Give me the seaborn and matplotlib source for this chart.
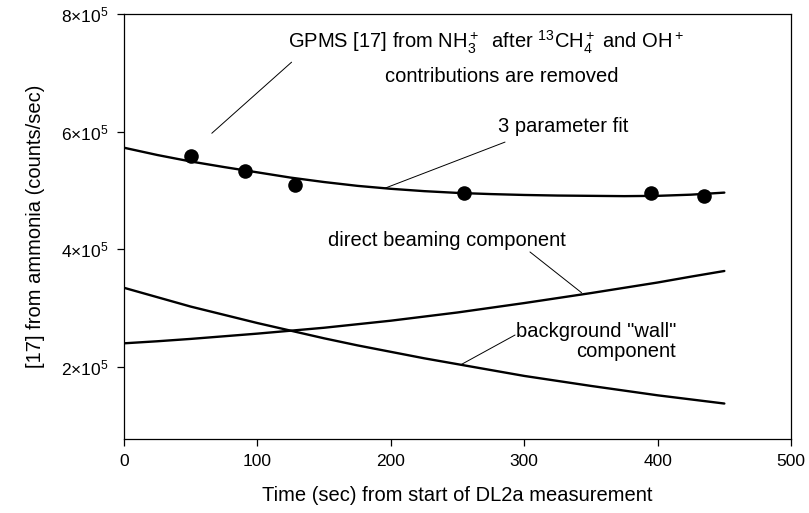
import matplotlib
matplotlib.use("Agg")
import matplotlib.pyplot as plt
import seaborn as sns
import pandas as pd
from matplotlib.ticker import FixedLocator, FuncFormatter

# ---- data ----
t_obs = [50, 91, 128, 255, 395, 435]
y_obs = [5.58e5, 5.33e5, 5.09e5, 4.95e5, 4.95e5, 4.90e5]

t_curve = [0, 25, 50, 75, 100, 125, 150, 175, 200, 225,
           250, 275, 300, 325, 350, 375, 400, 425, 450]
fit_vals = [5.724e5, 5.60e5, 5.49e5, 5.395e5, 5.305e5, 5.215e5, 5.14e5, 5.075e5, 5.025e5, 4.985e5,
            4.955e5, 4.935e5, 4.92e5, 4.91e5, 4.905e5, 4.90e5, 4.905e5, 4.925e5, 4.96e5]
direct_vals = [2.395e5, 2.43e5, 2.47e5, 2.515e5, 2.56e5, 2.61e5, 2.66e5, 2.72e5, 2.78e5, 2.85e5,
               2.92e5, 3.00e5, 3.08e5, 3.165e5, 3.25e5, 3.34e5, 3.43e5, 3.53e5, 3.626e5]
wall_vals = [3.34e5, 3.18e5, 3.02e5, 2.88e5, 2.74e5, 2.61e5, 2.48e5, 2.36e5, 2.25e5, 2.14e5,
             2.04e5, 1.94e5, 1.84e5, 1.755e5, 1.67e5, 1.59e5, 1.51e5, 1.44e5, 1.37e5]

x_ticks = [0, 100, 200, 300, 400, 500]
y_ticks = [2e5, 4e5, 6e5, 8e5]

sns.set_theme(style="ticks")
plt.rcParams['font.family'] = ['Liberation Sans', 'DejaVu Sans']
plt.rcParams['mathtext.fontset'] = 'custom'
plt.rcParams['mathtext.rm'] = 'Liberation Sans'
plt.rcParams['mathtext.it'] = 'Liberation Sans:italic'
plt.rcParams['mathtext.bf'] = 'Liberation Sans:bold'
for k in ['text.color', 'axes.labelcolor', 'xtick.color', 'ytick.color', 'axes.edgecolor']:
    plt.rcParams[k] = 'black'

fig = plt.figure(figsize=(8.09, 5.13), dpi=100)
ax = fig.add_axes([0.1533, 0.1442, 0.8245, 0.8285])

curves = pd.DataFrame({
    "t": t_curve * 3,
    "v": fit_vals + direct_vals + wall_vals,
    "series": ["fit"] * len(t_curve) + ["direct"] * len(t_curve) + ["wall"] * len(t_curve),
})
sns.lineplot(data=curves, x="t", y="v", units="series", estimator=None,
             color="black", linewidth=1.7, ax=ax, legend=False)

obs = pd.DataFrame({"t": t_obs, "v": y_obs})
sns.scatterplot(data=obs, x="t", y="v", color="black", s=110, edgecolor="black",
                linewidth=0, ax=ax, legend=False, zorder=5)

ax.set_xlim(0, 500)
ax.set_ylim(0.766e5, 8e5)
ax.xaxis.set_major_locator(FixedLocator(x_ticks))
ax.yaxis.set_major_locator(FixedLocator(y_ticks))
ax.yaxis.set_major_formatter(FuncFormatter(lambda v, p: r"$%d{\times}10^{5}$" % round(v / 1e5)))

for s in ax.spines.values():
    s.set_visible(True)
    s.set_linewidth(0.9)
    s.set_color("black")
ax.tick_params(axis="both", direction="out", length=5, width=0.9, colors="black",
               labelsize=12.5, pad=6)
ax.tick_params(top=False, right=False)

ax.set_xlabel("Time (sec) from start of DL2a measurement", fontsize=14.5, labelpad=12, color="black")
ax.set_ylabel("[17] from ammonia (counts/sec)", fontsize=14.5, labelpad=12, color="black")

tf = 14.5
tk = dict(fontsize=tf, va="center", color="black")
ax.text(123, 7.52e5, r"GPMS [17] from NH$_3^+$  after $^{13}$CH$_4^+$ and OH$^+$", ha="left", **tk)
ax.text(196, 6.94e5, "contributions are removed", ha="left", **tk)
ax.text(280, 6.08e5, "3 parameter fit", ha="left", **tk)
ax.text(153, 4.15e5, "direct beaming component", ha="left", **tk)
ax.text(294, 2.60e5, 'background "wall"', ha="left", **tk)
ax.text(339, 2.25e5, "component", ha="left", **tk)

lk = dict(color="black", linewidth=0.7)
ax.plot([125.6, 65.8], [7.18e5, 5.97e5], **lk)
ax.plot([285.6, 195], [5.82e5, 5.03e5], **lk)
ax.plot([304.3, 343], [3.95e5, 3.256e5], **lk)
ax.plot([293.1, 253], [2.536e5, 2.037e5], **lk)

fig.savefig("out.png", dpi=100)
